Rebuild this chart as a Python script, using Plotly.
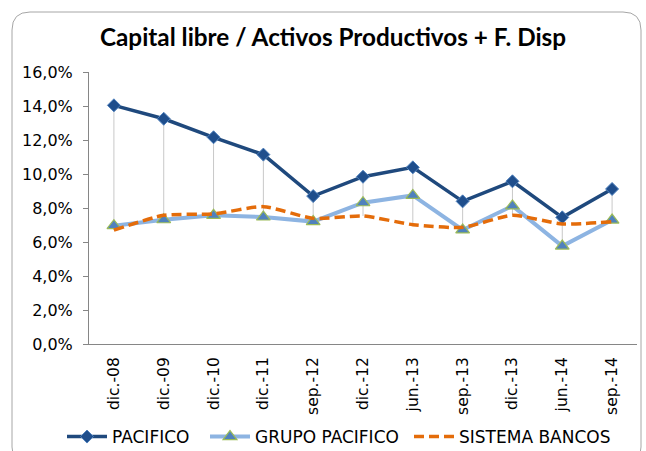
import plotly.graph_objects as go

# ---- data ----
categories = ["dic.-08", "dic.-09", "dic.-10", "dic.-11", "sep.-12", "dic.-12",
              "jun.-13", "sep.-13", "dic.-13", "jun.-14", "sep.-14"]
pacifico = [14.04, 13.25, 12.16, 11.14, 8.70, 9.84, 10.39, 8.39, 9.57, 7.45, 9.12]
grupo_pacifico = [6.96, 7.31, 7.57, 7.47, 7.20, 8.31, 8.74, 6.71, 8.12, 5.76, 7.29]
sistema_bancos = [6.70, 7.57, 7.65, 8.08, 7.39, 7.53, 7.02, 6.86, 7.57, 7.06, 7.19]
y_ticks = [0, 2, 4, 6, 8, 10, 12, 14, 16]
y_tick_labels = ["0,0%", "2,0%", "4,0%", "6,0%", "8,0%", "10,0%", "12,0%", "14,0%", "16,0%"]

W, H = 646, 451
L, R, T, B = 89, 9, 72, 107

fig = go.Figure()

# high-low lines (from max to min of the series at each category)
hl_x, hl_y = [], []
for i, c in enumerate(categories):
    vals = [pacifico[i], grupo_pacifico[i], sistema_bancos[i]]
    hl_x += [c, c, None]
    hl_y += [max(vals), min(vals), None]
fig.add_trace(go.Scatter(x=hl_x, y=hl_y, mode="lines", showlegend=False,
                         line=dict(color="#c8c8c8", width=1), hoverinfo="skip"))

fig.add_trace(go.Scatter(
    x=categories, y=pacifico, name="PACIFICO", mode="lines+markers", legend="legend",
    line=dict(color="#1F497D", width=3.5),
    marker=dict(symbol="diamond", size=10, color="#1F4E8C",
                line=dict(color="#4F81BD", width=1))))
fig.add_trace(go.Scatter(
    x=categories, y=grupo_pacifico, name="GRUPO PACIFICO", mode="lines+markers",
    legend="legend2",
    line=dict(color="#8DB4E2", width=4),
    marker=dict(symbol="triangle-up", size=12, color="#4F81BD",
                line=dict(color="#9BBB59", width=1.2))))
fig.add_trace(go.Scatter(
    x=categories, y=sistema_bancos, name="SISTEMA BANCOS", mode="lines",
    legend="legend3",
    line=dict(color="#E46C0A", width=3.5, dash="10px,5px", shape="spline", smoothing=0.6)))

# outer rounded border (pixel -> paper conversion)
pw, ph = W - L - R, H - T - B
def px(X):
    return (X - L) / pw
def py(Y):
    return (H - B - Y) / ph
x0, x1, y0, y1, rr = 12, 641, 12, 465, 18
path = (f"M {px(x0+rr)},{py(y0)} L {px(x1-rr)},{py(y0)} "
        f"Q {px(x1)},{py(y0)} {px(x1)},{py(y0+rr)} "
        f"L {px(x1)},{py(y1-rr)} Q {px(x1)},{py(y1)} {px(x1-rr)},{py(y1)} "
        f"L {px(x0+rr)},{py(y1)} Q {px(x0)},{py(y1)} {px(x0)},{py(y1-rr)} "
        f"L {px(x0)},{py(y0+rr)} Q {px(x0)},{py(y0)} {px(x0+rr)},{py(y0)} Z")
fig.add_shape(type="path", path=path, xref="paper", yref="paper",
              line=dict(color="#A6A6A6", width=1), layer="below")

def legend_at(xpix):
    return dict(orientation="h", x=xpix / W, xanchor="left",
                xref="container", y=1 - 437 / H, yref="container", yanchor="middle",
                font=dict(family="DejaVu Sans, Verdana, sans-serif", size=17),
                bgcolor="rgba(0,0,0,0)", itemwidth=40)

fig.update_layout(
    width=W, height=H,
    margin=dict(l=L, r=R, t=T, b=B, autoexpand=False),
    paper_bgcolor="white", plot_bgcolor="white",
    title=dict(text="<b>Capital libre / Activos Productivos + F. Disp</b>",
               x=333 / W, xanchor="center", y=1 - 37 / H, yanchor="middle",
               font=dict(family="Lato, Open Sans, sans-serif", size=24.3, color="black")),
    font=dict(family="DejaVu Sans, Verdana, sans-serif", size=15, color="black"),
    showlegend=True,
    legend=legend_at(70 - 8),
    legend2=legend_at(213 - 8),
    legend3=legend_at(417 - 8),
    xaxis=dict(type="category", range=[-0.5, len(categories) - 0.5],
               showgrid=False, showline=True, linecolor="#868686", linewidth=1,
               tickangle=-90, ticks="", ticklabelstandoff=6, automargin=False,
               tickfont=dict(size=15.5), zeroline=False, fixedrange=True),
    yaxis=dict(range=[0, 16], tickvals=y_ticks, ticktext=y_tick_labels,
               showgrid=False, showline=True, linecolor="#868686", linewidth=1,
               ticks="outside", ticklen=5, tickcolor="#868686", automargin=False,
               ticklabelstandoff=7,
               tickfont=dict(size=16), zeroline=False, fixedrange=True),
)

fig.write_html("out.html", config={"displayModeBar": False},
               post_script="document.body.style.margin='0px';")
